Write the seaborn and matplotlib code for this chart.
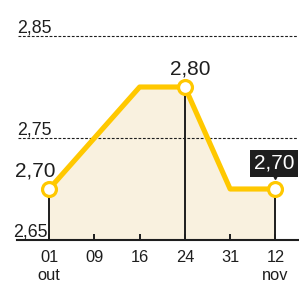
import matplotlib
matplotlib.use("Agg")
import matplotlib.pyplot as plt
from matplotlib.transforms import offset_copy
import seaborn as sns

# data
tick_labels = ["01\nout", "09", "16", "24", "31", "12\nnov"]
values = [2.70, 2.75, 2.80, 2.80, 2.70, 2.70]
labeled = [0, 3, 5]          # points with a marker, drop line and label
grid_values = [2.75, 2.85]
y_labels = {2.65: "2,65", 2.75: "2,75", 2.85: "2,85"}

yellow = "#FFC800"
cream = "#F9F1DF"
ink = "#1e1e1e"

sns.set_style("white")
plt.rcParams["font.family"] = ["Liberation Sans", "DejaVu Sans"]

pos = list(range(len(values)))

fig = plt.figure(figsize=(2.99, 2.89), dpi=100)
ax = fig.add_axes([17.5 / 299, 49 / 289, 280.5 / 299, 235 / 289])
ax.set_axisbelow(False)
ax.set_xlim(-0.7, 5.5)
ax.set_ylim(2.65, 2.8804)

ax.fill_between(pos, values, 2.65, color=cream, lw=0, zorder=1)

for g in grid_values:
    ax.axhline(g, color=ink, lw=0.8, ls=(0, (2.5, 1.5)), zorder=2)

ax.vlines([pos[i] for i in labeled], 2.65, [values[i] for i in labeled],
          color=ink, lw=1.4, zorder=3)

sns.lineplot(x=pos, y=values, color=yellow, linewidth=3.7, ax=ax, zorder=4)
ax.plot([pos[i] for i in labeled], [values[i] for i in labeled], ls="none",
        marker="o", ms=10, mfc="white", mec=yellow, mew=2.3, zorder=5)

# y labels
for v, s in y_labels.items():
    dx = -0.016 if v == 2.65 else 0.0
    ax.annotate(s, xy=(dx, v), xycoords=("axes fraction", "data"),
                xytext=(0, 2.2), textcoords="offset points",
                ha="left", va="baseline", fontsize=12.8, color=ink,
                annotation_clip=False)

# point labels
i0, i1, i2 = labeled
ax.annotate("2,70", xy=(pos[i0], values[i0]), xytext=(-10.3, 9),
            textcoords="offset points", ha="center", va="baseline",
            fontsize=15, color=ink)
ax.annotate("2,80", xy=(pos[i1], values[i1]), xytext=(3.8, 9),
            textcoords="offset points", ha="center", va="baseline",
            fontsize=15, color=ink)
ax.annotate("2,70", xy=(pos[i2], values[i2]), xytext=(-1, 18.5),
            textcoords="offset points", ha="center", va="center",
            fontsize=15, color="white", annotation_clip=False,
            bbox=dict(boxstyle="square,pad=0.18", fc=ink, ec="none"))
ax.plot(pos[i2], values[i2], marker="v", ms=6, color=ink, ls="none",
        transform=offset_copy(ax.transData, fig, x=0, y=14, units="dots"),
        clip_on=False, zorder=6)

ax.set_xticks(pos, tick_labels)
ax.set_yticks([])
ax.tick_params(axis="x", bottom=True, direction="in", length=4, width=1.4,
               color=ink, pad=7, labelsize=11.8, labelcolor=ink)
for t in ax.get_xticklabels():
    t.set_linespacing(1.25)

for side in ["top", "left", "right"]:
    ax.spines[side].set_visible(False)
ax.spines["bottom"].set_color(ink)
ax.spines["bottom"].set_linewidth(1.5)
ax.spines["bottom"].set_zorder(6)
ax.set_xlabel("")
ax.set_ylabel("")

fig.savefig("out.png", dpi=100)
